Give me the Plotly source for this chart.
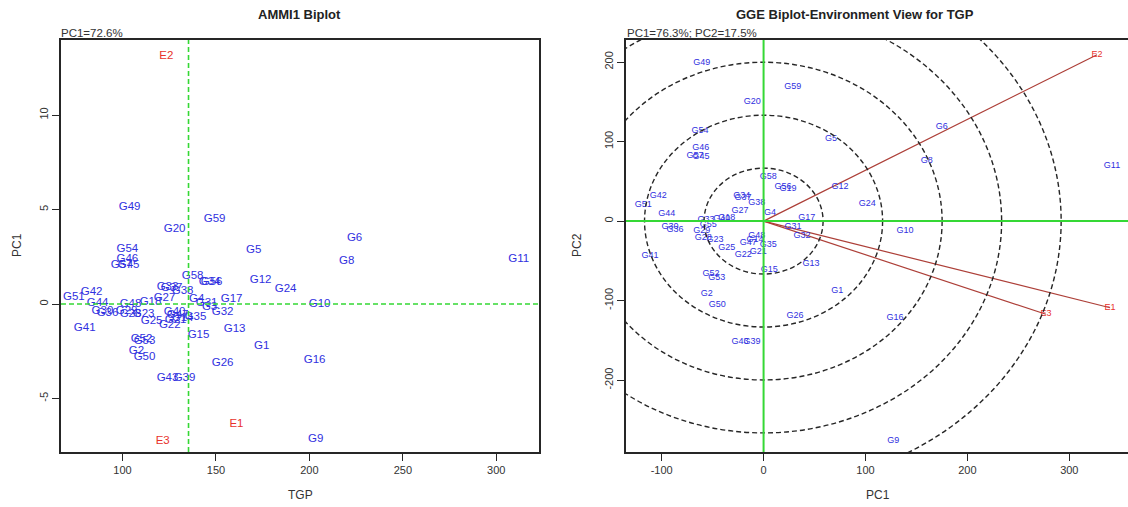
import plotly.graph_objects as go

# ---------------- AMMI1 biplot: genotype mean TGP vs. interaction PC1 ----------------
ammi_gen = ["G49", "G59", "G20", "G5", "G6", "G8", "G11", "G54", "G46", "G57", "G45",
            "G12", "G24", "G58", "G34", "G56", "G33", "G37", "G38", "G27", "G4", "G31",
            "G3", "G17", "G10", "G32", "G51", "G42", "G44", "G30", "G36", "G48", "G18",
            "G22", "G40", "G47", "G21", "G14", "G35", "G25", "G29", "G28", "G23", "G41",
            "G52", "G53", "G2", "G50", "G15", "G13", "G1", "G26", "G16", "G43", "G39", "G9"]
ammi_tgp = [103.8, 149.3, 127.9, 170.2, 224.2, 220.0, 312.0, 102.6, 102.6, 99.5, 103.3,
            173.9, 187.3, 137.5, 146.6, 147.7, 124.1, 126.3, 132.2, 122.5, 139.7, 145.0,
            146.6, 158.4, 205.5, 153.6, 74.0, 83.5, 86.7, 89.3, 92.0, 104.3, 115.0,
            125.3, 127.9, 129.5, 128.4, 132.2, 139.1, 115.6, 102.2, 104.3, 111.3, 79.8,
            110.2, 111.8, 107.5, 111.8, 140.7, 160.0, 174.5, 153.6, 202.8, 124.1, 133.2, 203.4]
ammi_pc1 = [5.13, 4.50, 3.97, 2.86, 3.49, 2.28, 2.38, 2.91, 2.38, 2.06, 2.06,
            1.27, 0.79, 1.48, 1.16, 1.16, 0.90, 0.85, 0.69, 0.32, 0.26, 0.05,
            -0.16, 0.26, 0.00, -0.42, 0.37, 0.63, 0.05, -0.37, -0.48, 0.00, 0.11,
            -1.11, -0.42, -0.58, -0.85, -0.74, -0.69, -0.90, -0.37, -0.53, -0.53, -1.27,
            -1.85, -1.96, -2.49, -2.80, -1.64, -1.32, -2.22, -3.12, -2.96, -3.92, -3.92, -7.14]

ammi_env = ["E1", "E2", "E3"]
ammi_env_tgp = [161.0, 123.5, 121.5]
ammi_env_pc1 = [-6.35, 13.1, -7.25]

ammi_xticks = [100, 150, 200, 250, 300]
ammi_yticks = [-5, 0, 5, 10]
ammi_ytick_text = ["-5", "0", "5", "10"]

# ---------------- GGE biplot: environment view ----------------
gge_gen = ["G49", "G59", "G20", "G54", "G46", "G57", "G45", "G5", "G6", "G8", "G11",
           "G12", "G24", "G17", "G10", "G31", "G32", "G4", "G13", "G1", "G26", "G16",
           "G9", "G15", "G41", "G52", "G53", "G2", "G50", "G43", "G39", "G25", "G22",
           "G21", "G35", "G48", "G47", "G14", "G23", "G29", "G28", "G33", "G55", "G30",
           "G36", "G44", "G42", "G51", "G27", "G18", "G40", "G34", "G37", "G38", "G58",
           "G56", "G19"]
gge_pc1 = [-60.7, 28.6, -11.1, -62.4, -61.7, -67.3, -61.4, 66.1, 174.8, 160.1, 341.9,
           75.0, 101.8, 42.3, 138.8, 28.9, 37.7, 6.3, 46.5, 72.3, 30.8, 128.9,
           127.3, 5.6, -111.5, -51.6, -46.0, -55.8, -45.4, -23.2, -11.4, -36.2, -19.9,
           -5.2, 4.6, -6.8, -15.0, -8.4, -47.7, -60.7, -59.1, -56.5, -54.3, -91.9,
           -86.9, -95.1, -103.3, -118.1, -23.2, -36.2, -41.1, -21.5, -20.2, -6.8, 4.6,
           19.0, 23.9]
gge_pc2 = [198.7, 169.0, 150.6, 113.8, 92.1, 81.6, 81.2, 103.8, 119.2, 76.2, 69.0,
           43.2, 22.2, 4.3, -12.5, -6.6, -17.9, 10.9, -53.5, -87.0, -119.2, -121.2,
           -275.9, -61.5, -43.9, -65.6, -71.0, -91.1, -105.4, -151.3, -151.3, -33.4, -41.8,
           -38.4, -29.2, -18.8, -27.1, -23.0, -23.0, -12.5, -20.8, 2.1, -4.2, -7.0,
           -11.3, 9.3, 31.4, 20.1, 12.5, 4.3, 3.0, 31.4, 29.7, 23.1, 55.7,
           42.9, 41.0]

gge_env = ["E1", "E2", "E3"]
gge_env_pc1 = [340.0, 327.2, 277.1]
gge_env_pc2 = [-108.9, 209.2, -117.1]

# concentric rings around the biplot origin (radius along PC1, stretch along PC2)
ring_radius = [58.4, 116.8, 175.2, 233.6, 292.0]
ring_stretch = 1.14

gge_xticks = [-100, 0, 100, 200, 300]
gge_xtick_text = ["-100", "0", "100", "200", "300"]
gge_yticks = [-200, -100, 0, 100, 200]
gge_ytick_text = ["-200", "-100", "0", "100", "200"]

# ---------------- styling ----------------
W, H = 1128, 507
FONT = "Liberation Sans, Arial, Helvetica, sans-serif"
BLUE = "#3030e0"
RED = "#e8322c"
GREEN = "#35d835"
AXIS = "#262626"
BROWN = "#ad3f38"


def px_x(p):
    return p / W


def px_y(p):
    return 1 - p / H


fig = go.Figure()

# AMMI labels
fig.add_trace(go.Scatter(x=ammi_tgp, y=ammi_pc1, text=ammi_gen, mode="text",
                         textfont=dict(family=FONT, size=11.5, color=BLUE),
                         xaxis="x", yaxis="y", showlegend=False, hoverinfo="text"))
fig.add_trace(go.Scatter(x=ammi_env_tgp, y=ammi_env_pc1, text=ammi_env, mode="text",
                         textfont=dict(family=FONT, size=11.5, color=RED),
                         xaxis="x", yaxis="y", showlegend=False, hoverinfo="text"))

# GGE environment vectors from the origin
for ex, ey in zip(gge_env_pc1, gge_env_pc2):
    fig.add_trace(go.Scatter(x=[0, ex], y=[0, ey], mode="lines",
                             line=dict(color=BROWN, width=1.2),
                             xaxis="x2", yaxis="y2", showlegend=False, hoverinfo="skip"))

fig.add_trace(go.Scatter(x=gge_pc1, y=gge_pc2, text=gge_gen, mode="text",
                         textfont=dict(family=FONT, size=9, color=BLUE),
                         xaxis="x2", yaxis="y2", showlegend=False, hoverinfo="text"))
fig.add_trace(go.Scatter(x=gge_env_pc1, y=gge_env_pc2, text=gge_env, mode="text",
                         textfont=dict(family=FONT, size=9, color=RED),
                         xaxis="x2", yaxis="y2", showlegend=False, hoverinfo="text"))

shapes = []
# AMMI reference lines: grand mean and zero interaction
grand_mean = sum(ammi_env_tgp) / len(ammi_env_tgp)
shapes.append(dict(type="line", xref="x", yref="y domain", x0=grand_mean, x1=grand_mean,
                   y0=0, y1=1, line=dict(color=GREEN, width=1.6, dash="5px,3px")))
shapes.append(dict(type="line", xref="x domain", yref="y", x0=0, x1=1, y0=0, y1=0,
                   line=dict(color=GREEN, width=1.6, dash="5px,3px")))

# GGE rings and axes
for r in ring_radius:
    shapes.append(dict(type="circle", xref="x2", yref="y2", x0=-r, x1=r,
                       y0=-r * ring_stretch, y1=r * ring_stretch,
                       line=dict(color=AXIS, width=1.4, dash="5px,3px")))
shapes.append(dict(type="line", xref="x2", yref="y2 domain", x0=0, x1=0, y0=0, y1=1,
                   line=dict(color=GREEN, width=2)))
shapes.append(dict(type="line", xref="x2 domain", yref="y2", x0=0, x1=1, y0=0, y1=0,
                   line=dict(color=GREEN, width=2)))

tickfont = dict(family=FONT, size=11, color="#333333")
plot_top, plot_bottom = 40, 452
ydom = [px_y(plot_bottom), px_y(plot_top)]

axis_common = dict(showgrid=False, zeroline=False, showline=True, linecolor=AXIS,
                   linewidth=1.5, ticks="outside", ticklen=7, tickwidth=1.2,
                   tickcolor=AXIS, tickfont=tickfont)

fig.update_layout(
    width=W, height=H, margin=dict(l=0, r=0, t=0, b=0),
    paper_bgcolor="white", plot_bgcolor="white",
    xaxis=dict(domain=[px_x(61), px_x(538.5)], range=[67.1, 322.6], anchor="y",
               tickvals=ammi_xticks, mirror=True, **axis_common),
    yaxis=dict(domain=ydom, range=[-7.83, 13.97], anchor="x",
               tickvals=ammi_yticks, ticktext=ammi_ytick_text, tickangle=-90,
               mirror=True, **axis_common),
    xaxis2=dict(domain=[px_x(626), 1.0], range=[-135.0, 357.6], anchor="y2",
                tickvals=gge_xticks, ticktext=gge_xtick_text, mirror=True, **axis_common),
    yaxis2=dict(domain=ydom, range=[-290.3, 227.7], anchor="x2",
                tickvals=gge_yticks, ticktext=gge_ytick_text, tickangle=-90,
                mirror=False, **axis_common),
    shapes=shapes,
)

ann_font = dict(family=FONT, size=12, color="#333333")
title_font = dict(family=FONT, size=13, color="#222222")
small_font = dict(family=FONT, size=11.5, color="#333333")
annotations = [
    dict(text="<b>AMMI1 Biplot</b>", x=px_x(299), y=px_y(14), font=title_font),
    dict(text="<b>GGE Biplot-Environment View for TGP</b>", x=px_x(855), y=px_y(14),
         font=title_font),
    dict(text="PC1=72.6%", x=px_x(59), y=px_y(33), xanchor="left", font=small_font),
    dict(text="PC1=76.3%; PC2=17.5%", x=px_x(625), y=px_y(33), xanchor="left",
         font=small_font),
    dict(text="TGP", x=px_x(300), y=px_y(495), font=ann_font),
    dict(text="PC1", x=px_x(878), y=px_y(495), font=ann_font),
    dict(text="PC1", x=px_x(17), y=px_y(245), textangle=-90, font=ann_font),
    dict(text="PC2", x=px_x(577), y=px_y(245), textangle=-90, font=ann_font),
]
for a in annotations:
    a.update(xref="paper", yref="paper", showarrow=False)
    a.setdefault("xanchor", "center")
    a.setdefault("yanchor", "middle")
fig.update_layout(annotations=annotations)

fig.write_html("out.html")
